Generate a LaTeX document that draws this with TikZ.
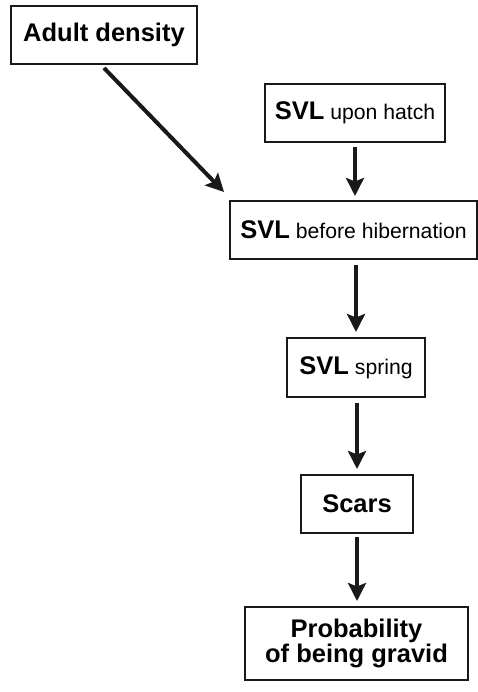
\documentclass[tikz,border=0pt]{standalone}
\usepackage{fontspec}
\setmainfont{Liberation Sans}
\usetikzlibrary{arrows.meta}
\newcommand{\bigb}[1]{{\fontsize{25.5}{25.5}\selectfont\bfseries #1}}
\newcommand{\smr}[1]{{\fontsize{21.2}{24}\selectfont #1}}
\begin{document}
\begin{tikzpicture}[x=1pt,y=-1pt,
  box/.style={draw=black!90, line width=2pt, inner sep=0pt, align=center},
  arr/.style={draw=black!90, line width=4pt, -{Stealth[length=18pt,width=18pt,inset=3.5pt]}}]
\useasboundingbox[fill=white] (0,0) rectangle (478,692);
\node[box, minimum width=186pt, minimum height=58pt] (Ad) at (104,35) {\bigb{Adult density}};
\node[box, minimum width=180pt, minimum height=58pt] (H) at (355,113) {\bigb{SVL}\hspace{6pt}\smr{upon hatch}};
\node[box, minimum width=247pt, minimum height=58pt] (BH) at (353.5,230) {\bigb{SVL}\hspace{6pt}\smr{before hibernation}};
\node[box, minimum width=138pt, minimum height=59pt] (Sp) at (356,367.5) {\bigb{SVL}\hspace{6pt}\smr{spring}};
\node[box, minimum width=112pt, minimum height=58pt] (Sc) at (357,504) {\bigb{Scars}};
\node[box, minimum width=223pt, minimum height=73pt, font=\fontsize{25.5}{23}\selectfont\bfseries] (Pr) at (356.5,643.5) {Probability\\ of being gravid};
\draw[arr] ([yshift=-3pt]Ad.south) -- ([xshift=-5pt,yshift=8pt]BH.north west);
\draw[arr, shorten <=4pt, shorten >=4pt] (H.south) -- (H.south |- BH.north);
\draw[arr, shorten <=5pt, shorten >=5pt] (BH.south -| Sp.north) -- (Sp.north);
\draw[arr, shorten <=5pt, shorten >=5pt] (Sp.south -| Sc.north) -- (Sc.north);
\draw[arr, shorten <=3pt, shorten >=5pt] (Sc.south) -- (Sc.south |- Pr.north);
\end{tikzpicture}
\end{document}
